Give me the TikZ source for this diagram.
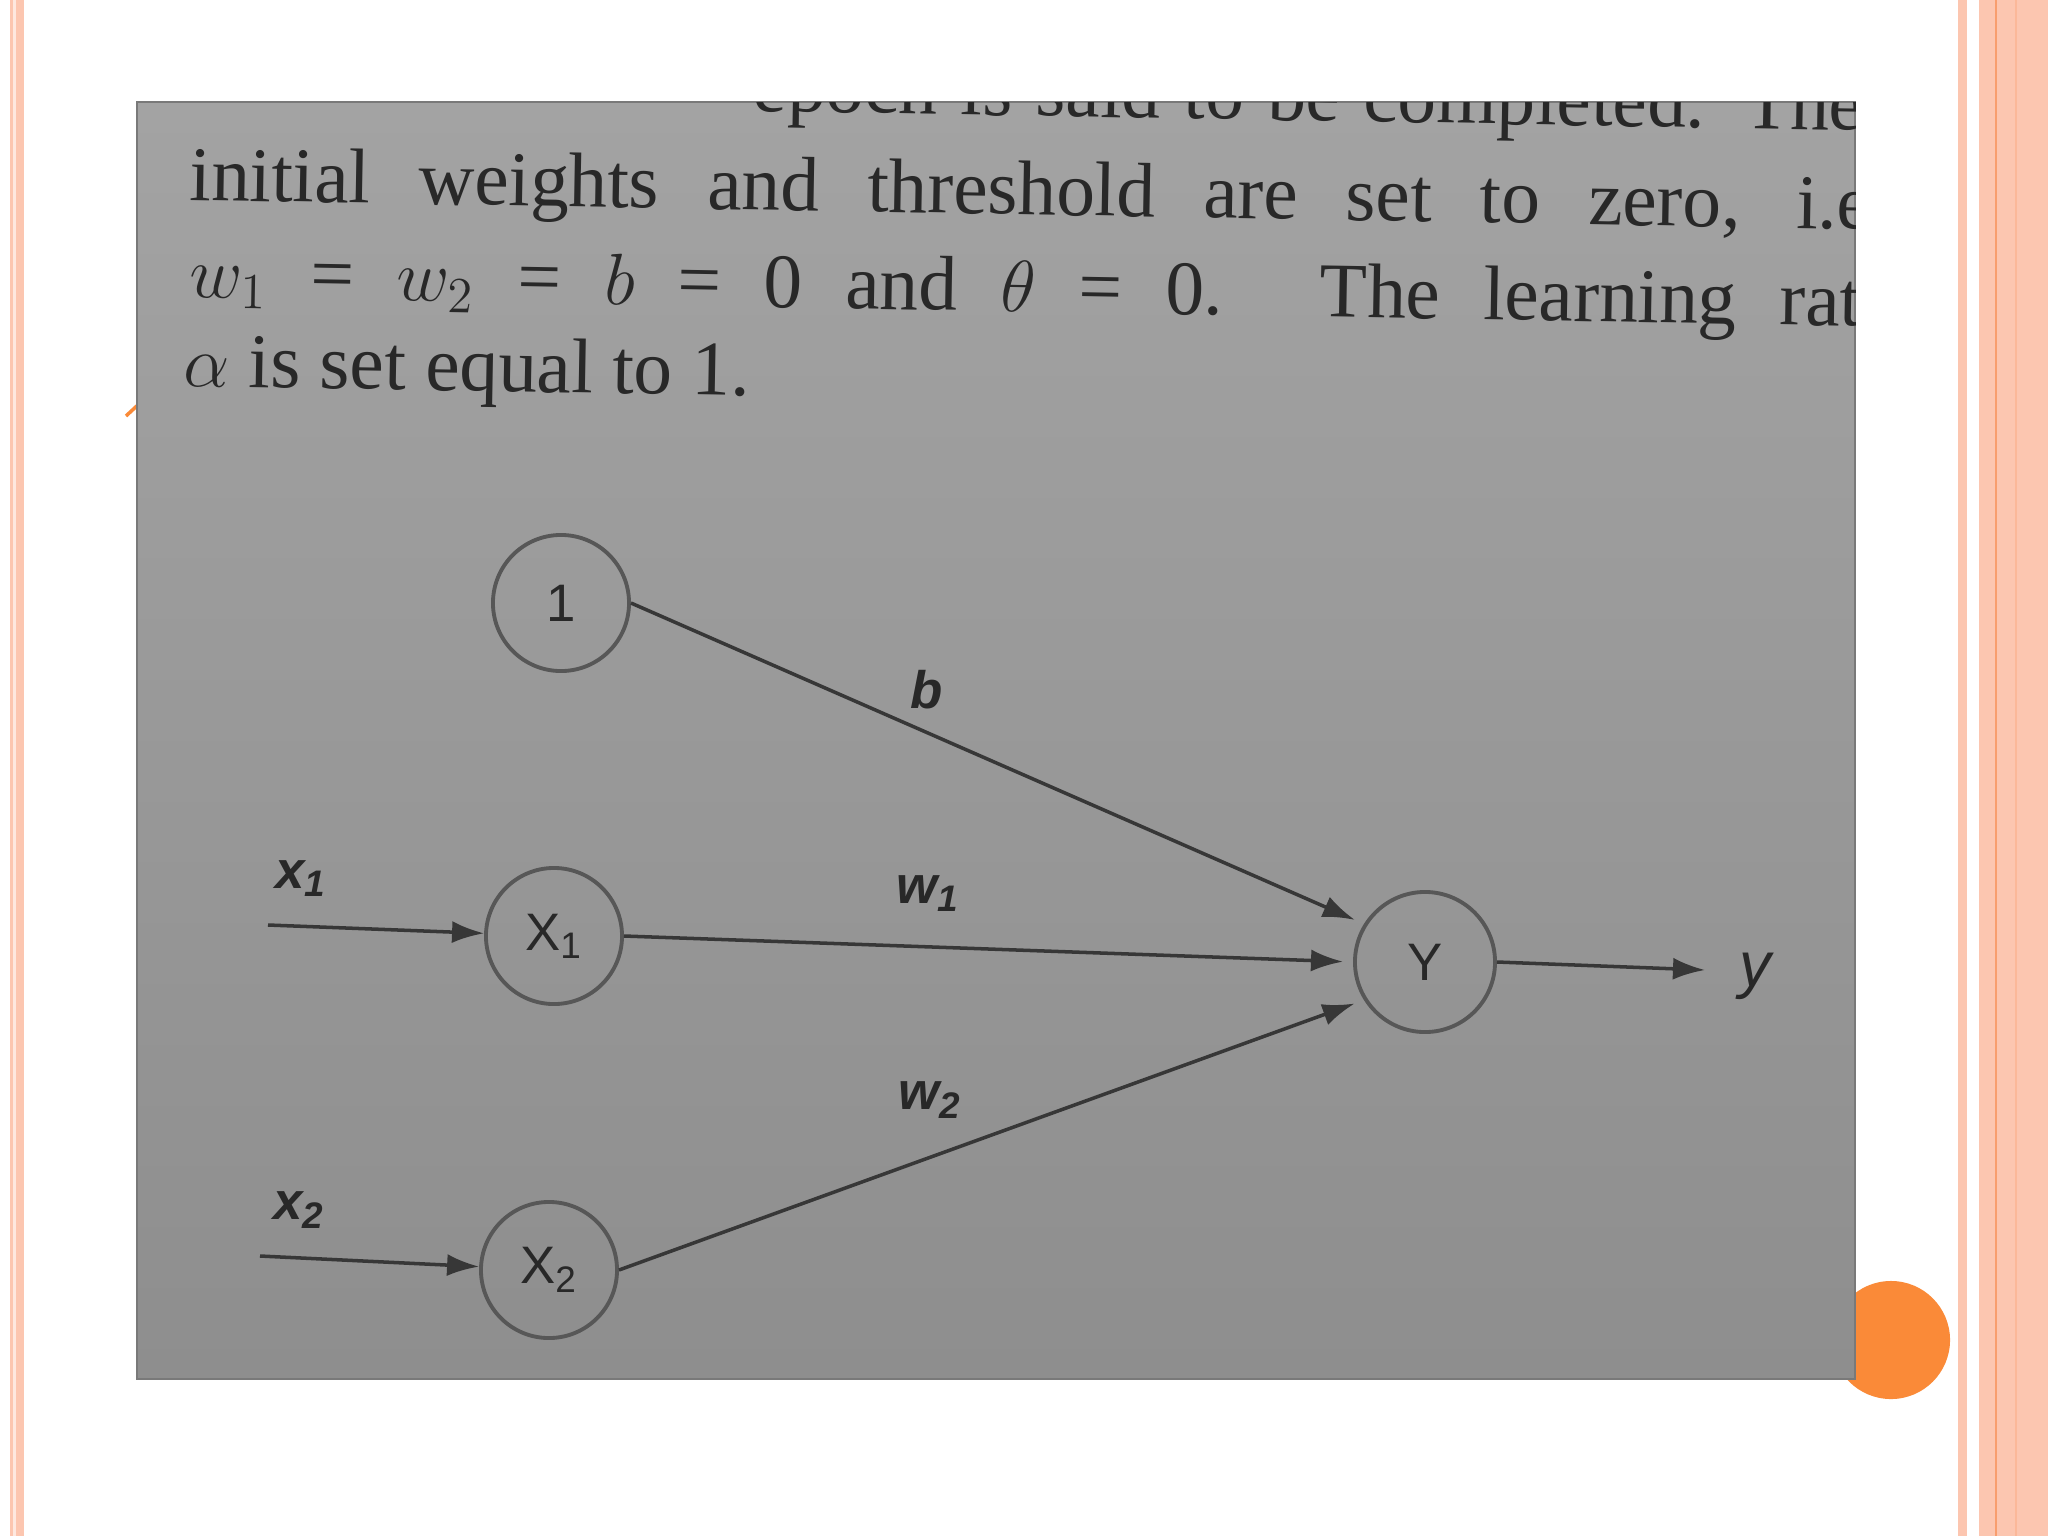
\documentclass[tikz,border=0pt]{standalone}
\usepackage{fontspec}
\setmainfont{Liberation Serif}
\setsansfont{Liberation Sans}
\usepackage{tikz}
\usetikzlibrary{arrows.meta}

\definecolor{salmon}{RGB}{252,198,176}
\definecolor{salmondark}{RGB}{248,158,110}
\definecolor{dotorange}{RGB}{250,138,56}
\definecolor{phototop}{RGB}{163,163,163}
\definecolor{photobot}{RGB}{142,142,142}
\definecolor{ink}{RGB}{40,40,40}
\definecolor{pen}{RGB}{55,55,55}

\begin{document}
\begin{tikzpicture}[x=0.01cm, y=-0.01cm,
	neuron/.style={circle, draw=pen!70!phototop, line width=1.1pt, minimum size=1.36cm, inner sep=0pt,
		font=\sffamily\fontsize{15}{15}\selectfont, text=ink},
	arr/.style={draw=pen, line width=1pt, -{Latex[length=0.32cm, width=0.22cm]}},
	lbl/.style={inner sep=0pt, text=ink, font=\sffamily\bfseries\itshape\fontsize{15}{15}\selectfont},
	txt/.style={anchor=base west, inner sep=0pt, rotate=-1, text=ink, font=\fontsize{22}{22}\selectfont}]
	% параметры
	\def\W{2048} % ширина слайда
	\def\H{1536} % высота слайда

	% фон слайда
	\useasboundingbox (0,0) rectangle (\W,\H);
	\fill[white] (0,0) rectangle (\W,\H);

	% полосы по краям
	\fill[salmon] (10,0) rectangle (13,\H);
	\fill[salmon!40] (13,0) rectangle (16,\H);
	\fill[salmon] (16,0) rectangle (24,\H);
	\fill[salmon] (1958,0) rectangle (1967,\H);
	\fill[salmon] (1979,0) rectangle (\W,\H);
	\fill[salmondark] (1995,0) rectangle (1997,\H);
	\fill[salmondark!35!salmon] (2015,0) rectangle (2017,\H);

	% оранжевые метки под снимком
	\fill[dotorange] (1891,1340) circle (0.59cm);
	\draw[dotorange, line width=1pt] (126,416) -- (140,403);

	% снимок страницы
	\shade[top color=phototop, bottom color=photobot] (137,102) rectangle (1855,1379);
	\draw[photobot!85!black, line width=0.4pt] (137,102) rectangle (1855,1379);

	% текст книги, обрезанный по снимку
	\begin{scope}
		\clip (137,102) rectangle (1855,1379);
		\node[txt] (line0) at (752,111) {\makebox[11.1cm][s]{epoch is said to be completed. The}};
		\node[txt] (line1) at (189,200) {\makebox[17cm][s]{initial weights and threshold are set to zero, i.e.}};
		\node[txt] (line2) at (189,297) {\makebox[17.05cm][s]{$w_1$ = $w_2$ = $b$ = 0 and $\theta$ = 0. The learning rate}};
		\node[txt] (line3) at (183,386) {$\alpha$ is set equal to 1.};
	\end{scope}

	% нейроны
	\node[neuron] (one) at (561,603) {1};
	\node[neuron] (X1) at (554,936) {X\textsubscript{1}};
	\node[neuron] (X2) at (549,1270) {X\textsubscript{2}};
	\node[neuron, minimum size=1.4cm] (Y) at (1425,962) {Y};

	% входы и выход
	\coordinate (in1) at (268,925);
	\coordinate (in2) at (260,1256);
	\coordinate (yend) at (1705,970);
	\node[lbl] (lx1) at (301,879) {x\textsubscript{1}};
	\node[lbl] (lx2) at (299,1210) {x\textsubscript{2}};
	\node[lbl, font=\sffamily\itshape\fontsize{18}{18}\selectfont] (yout) at (1755,976) {y};

	% веса
	\node[lbl] (lb) at (927,690) {b};
	\node[lbl] (lw1) at (928,894) {w\textsubscript{1}};
	\node[lbl] (lw2) at (930,1100) {w\textsubscript{2}};

	% связи
	\draw[arr] (in1) -- (X1);
	\draw[arr] (in2) -- (X2);
	\draw[arr, shorten >=0.1cm] (one.east) -- (Y.148);
	\draw[arr, shorten >=0.1cm] (X1.east) -- (Y.west);
	\draw[arr, shorten >=0.1cm] (X2.east) -- (Y.212);
	\draw[arr] (Y.east) -- (yend);
\end{tikzpicture}
\end{document}
